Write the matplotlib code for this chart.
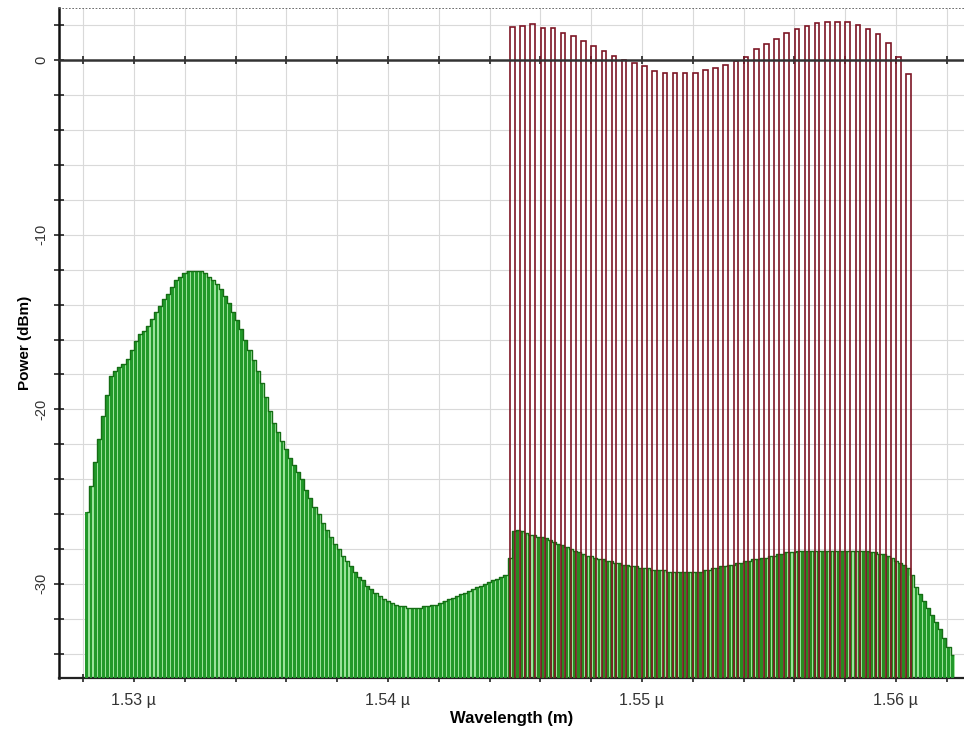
import numpy as np
import matplotlib
matplotlib.use("Agg")
import matplotlib.pyplot as plt
from matplotlib.ticker import FuncFormatter, MultipleLocator

# ---------------- data ----------------
# ASE noise spectrum (green comb), wavelength in micrometres, power in dBm
noise_start = 1.52815
noise_step = 0.00016
noise_dbm = [
    -25.9, -24.4, -23.0, -21.7, -20.4, -19.2, -18.1, -17.8, -17.6, -17.4,
    -17.1, -16.6, -16.1, -15.7, -15.5, -15.2, -14.8, -14.4, -14.1, -13.7,
    -13.4, -13.0, -12.6, -12.4, -12.2, -12.1, -12.1, -12.1, -12.1, -12.2,
    -12.4, -12.6, -12.8, -13.1, -13.5, -13.9, -14.4, -14.9, -15.4, -16.0,
    -16.6, -17.2, -17.8, -18.5, -19.3, -20.1, -20.8, -21.3, -21.8, -22.3,
    -22.8, -23.2, -23.6, -24.0, -24.6, -25.1, -25.6, -26.0, -26.5, -26.9,
    -27.3, -27.7, -28.0, -28.4, -28.7, -29.0, -29.3, -29.6, -29.8, -30.1,
    -30.3, -30.5, -30.7, -30.9, -31.0, -31.1, -31.2, -31.3, -31.3, -31.4,
    -31.4, -31.4, -31.4, -31.3, -31.3, -31.2, -31.2, -31.1, -31.0, -30.9,
    -30.8, -30.7, -30.6, -30.5, -30.4, -30.3, -30.2, -30.1, -30.0, -29.9,
    -29.8, -29.7, -29.6, -29.5, -28.5, -27.0, -26.9, -27.0, -27.1, -27.2,
    -27.2, -27.3, -27.3, -27.4, -27.5, -27.6, -27.7, -27.8, -27.9, -28.0,
    -28.1, -28.2, -28.3, -28.4, -28.4, -28.5, -28.6, -28.6, -28.7, -28.7,
    -28.8, -28.8, -28.9, -28.9, -29.0, -29.0, -29.1, -29.1, -29.1, -29.2,
    -29.2, -29.2, -29.2, -29.3, -29.3, -29.3, -29.3, -29.3, -29.3, -29.3,
    -29.3, -29.3, -29.2, -29.2, -29.1, -29.1, -29.0, -29.0, -28.9, -28.9,
    -28.8, -28.8, -28.7, -28.7, -28.6, -28.6, -28.5, -28.5, -28.4, -28.4,
    -28.3, -28.3, -28.2, -28.2, -28.2, -28.1, -28.1, -28.1, -28.1, -28.1,
    -28.1, -28.1, -28.1, -28.1, -28.1, -28.1, -28.1, -28.1, -28.1, -28.1,
    -28.1, -28.1, -28.1, -28.2, -28.2, -28.3, -28.3, -28.4, -28.5, -28.7,
    -28.8, -28.9, -29.1, -29.5, -30.2, -30.6, -31.0, -31.4, -31.8, -32.2,
    -32.6, -33.1, -33.6, -34.1,
]

# WDM signal channels (red), wavelength in micrometres, power in dBm
signal_wl = [
    1.5449, 1.5453, 1.5457, 1.5461, 1.5465, 1.5469, 1.5473, 1.5477, 1.5481, 1.5485,
    1.5489, 1.5493, 1.5497, 1.5501, 1.5505, 1.5509, 1.5513, 1.5517, 1.5521, 1.5525,
    1.5529, 1.5533, 1.5537, 1.5541, 1.5545, 1.5549, 1.5553, 1.5557, 1.5561, 1.5565,
    1.5569, 1.5573, 1.5577, 1.5581, 1.5585, 1.5589, 1.5593, 1.5597, 1.5601, 1.5605,
]
signal_dbm = [
    1.93, 1.96, 2.06, 1.87, 1.87, 1.58, 1.39, 1.10, 0.82, 0.53,
    0.25, 0.00, -0.13, -0.32, -0.61, -0.70, -0.74, -0.74, -0.74, -0.55,
    -0.46, -0.27, -0.04, 0.21, 0.63, 0.91, 1.20, 1.58, 1.77, 1.96,
    2.15, 2.19, 2.19, 2.19, 2.00, 1.77, 1.49, 1.01, 0.21, -0.80,
]

x_major_ticks = [1.53, 1.54, 1.55, 1.56]
y_major_ticks = [0, -10, -20, -30]
x_label = "Wavelength (m)"
y_label = "Power (dBm)"

# ---------------- figure ----------------
plt.rcParams['font.family'] = ['Liberation Sans', 'DejaVu Sans']
fig = plt.figure(figsize=(9.64, 7.35), dpi=100)
ax = fig.add_axes([59 / 964, 1 - 678 / 735, 1 - 59 / 964, (678 - 8) / 735])

YMIN, YMAX = -35.4, 3.0
XMIN, XMAX = 1.52705, 1.56268
BASE = -60.0

noise_wl = noise_start + noise_step * np.arange(len(noise_dbm))
noise_arr = np.array(noise_dbm)

# comb colour: slightly darker inside the signal band (mixing with red lines)
band_lo, band_hi = min(signal_wl) - 0.0002, max(signal_wl) + 0.0002
comb_colors = ['#2a8a20' if band_lo <= w <= band_hi else '#22992a' for w in noise_wl]

# light green underlay (forms the pale gaps between comb lines)
ax.bar(noise_wl, noise_arr - BASE, bottom=BASE, width=noise_step * 1.02,
       color='#9be29b', linewidth=0, zorder=2, antialiased=False)
# green comb
ax.bar(noise_wl, noise_arr - BASE, bottom=BASE, width=noise_step * 0.72,
       color=comb_colors, linewidth=0, zorder=3, antialiased=False)
# dark green outline along the top of the comb
ax.step(noise_wl, noise_arr, where='mid', color='#156e15', linewidth=1.0, zorder=3.5)

# red signal channels (outlined rectangles)
sig_arr = np.array(signal_dbm)
ax.bar(signal_wl, sig_arr - BASE, bottom=BASE, width=0.00018,
       facecolor='none', edgecolor='#7d1525', linewidth=1.2, zorder=4)

ax.set_xlim(XMIN, XMAX)
ax.set_ylim(YMIN, YMAX)

# ticks
ax.set_xticks(x_major_ticks)
ax.xaxis.set_minor_locator(MultipleLocator(0.002))
ax.xaxis.set_major_formatter(FuncFormatter(lambda v, p: f"{v:.2f} \u00b5"))
ax.set_yticks(y_major_ticks)
ax.yaxis.set_minor_locator(MultipleLocator(2))
ax.yaxis.set_major_formatter(FuncFormatter(lambda v, p: f"{v:.0f}"))

ax.grid(which='both', color='#d9d9d9', linewidth=0.8, zorder=0)
ax.set_axisbelow(True)

ax.tick_params(axis='x', which='both', direction='inout', length=6, width=1.2,
               colors='#222222', labelcolor='#333333', labelsize=11.5, pad=8,
               top=True, labeltop=False)
ax.tick_params(axis='y', which='both', direction='inout', length=7, width=1.2,
               colors='#222222', labelcolor='#333333', labelsize=10.5, pad=4)
for lab in ax.get_yticklabels():
    lab.set_rotation(90)
    lab.set_va('center')

# spines: top spine placed at y = 0 (the x-axis line)
ax.spines['top'].set_position(('data', 0))
ax.spines['top'].set_linewidth(1.8)
ax.spines['top'].set_color('#333333')
ax.spines['top'].set_zorder(6)
ax.spines['left'].set_linewidth(1.8)
ax.spines['left'].set_color('#111111')
ax.spines['bottom'].set_linewidth(1.6)
ax.spines['bottom'].set_color('#222222')
ax.spines['right'].set_visible(False)
# dotted frame line at the top of the plot area
ax.axhline(YMAX, color='#555555', linestyle=(0, (1, 1)), linewidth=1.2, zorder=6)

ax.set_xlabel(x_label, fontsize=12, fontweight='bold', labelpad=2)
ax.set_ylabel(y_label, fontsize=11, fontweight='bold', labelpad=2)

fig.savefig("out.png", dpi=100)
